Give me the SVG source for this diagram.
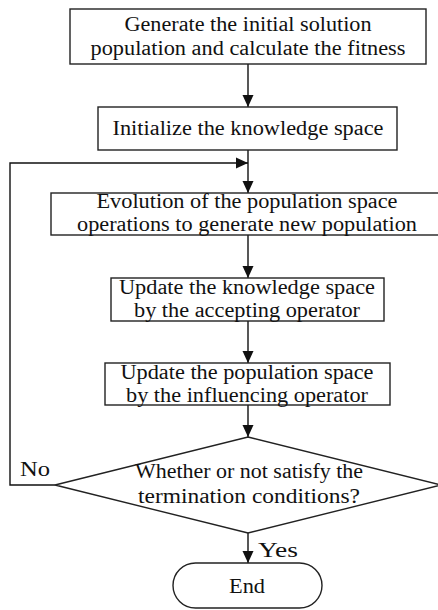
<svg xmlns="http://www.w3.org/2000/svg" width="438" height="610" viewBox="0 0 438 610">
  <style>
    .box { fill: #fff; stroke: #222; stroke-width: 1.4; }
    .line { fill: none; stroke: #111; stroke-width: 1.4; }
    text { font-family: "Liberation Serif", "Times New Roman", serif; font-size: 20.5px; fill: #111; }
    .c { text-anchor: middle; }
  </style>
  <defs>
    <marker id="arrow" viewBox="0 0 12 12" refX="12" refY="6" markerWidth="12" markerHeight="12" markerUnits="userSpaceOnUse" orient="auto">
      <path d="M0,0.5 L12,6 L0,11.5 Z" fill="#111"/>
    </marker>
  </defs>
  <rect width="438" height="610" fill="#fff"/>

  <g id="connectors">
    <line class="line" x1="248" y1="64" x2="248" y2="107" marker-end="url(#arrow)"/>
    <line class="line" x1="248" y1="150" x2="248" y2="193" marker-end="url(#arrow)"/>
    <line class="line" x1="248" y1="235" x2="248" y2="278" marker-end="url(#arrow)"/>
    <line class="line" x1="248" y1="321" x2="248" y2="363" marker-end="url(#arrow)"/>
    <line class="line" x1="248" y1="405" x2="248" y2="437" marker-end="url(#arrow)"/>
    <line class="line" x1="248" y1="533" x2="248" y2="563" marker-end="url(#arrow)"/>
    <polyline class="line" points="55,485 10,485 10,163 248,163" marker-end="url(#arrow)"/>
    <text x="20" y="476" textLength="30" lengthAdjust="spacingAndGlyphs">No</text>
    <text x="258" y="557" textLength="40" lengthAdjust="spacingAndGlyphs">Yes</text>
  </g>

  <g id="start">
    <rect class="box" x="70" y="9" width="356" height="55"/>
    <text class="c" x="248" y="31" textLength="247" lengthAdjust="spacingAndGlyphs">Generate the initial solution</text>
    <text class="c" x="248" y="55" textLength="315" lengthAdjust="spacingAndGlyphs">population and calculate the fitness</text>
  </g>

  <g id="init-knowledge">
    <rect class="box" x="98" y="107" width="299" height="43"/>
    <text class="c" x="248" y="135" textLength="271" lengthAdjust="spacingAndGlyphs">Initialize the knowledge space</text>
  </g>

  <g id="evolution">
    <rect class="box" x="51" y="193" width="392" height="42"/>
    <text class="c" x="247" y="208" textLength="301" lengthAdjust="spacingAndGlyphs">Evolution of the population space</text>
    <text class="c" x="247" y="231" textLength="340" lengthAdjust="spacingAndGlyphs">operations to generate new population</text>
  </g>

  <g id="accept">
    <rect class="box" x="111" y="278" width="273" height="43"/>
    <text class="c" x="247" y="294" textLength="256" lengthAdjust="spacingAndGlyphs">Update the knowledge space</text>
    <text class="c" x="247" y="317" textLength="226" lengthAdjust="spacingAndGlyphs">by the accepting operator</text>
  </g>

  <g id="influence">
    <rect class="box" x="105" y="363" width="285" height="42"/>
    <text class="c" x="247" y="379" textLength="253" lengthAdjust="spacingAndGlyphs">Update the population space</text>
    <text class="c" x="247" y="402" textLength="242" lengthAdjust="spacingAndGlyphs">by the influencing operator</text>
  </g>

  <g id="decision">
    <polygon class="box" points="248,437 441,485 248,533 55,485"/>
    <text class="c" x="249" y="478" textLength="228" lengthAdjust="spacingAndGlyphs">Whether or not satisfy the</text>
    <text class="c" x="249" y="503" textLength="222" lengthAdjust="spacingAndGlyphs">termination conditions?</text>
  </g>

  <g id="end">
    <rect class="box" x="173" y="563" width="149" height="45" rx="22.5"/>
    <text class="c" x="247" y="593" textLength="36" lengthAdjust="spacingAndGlyphs">End</text>
  </g>
</svg>
